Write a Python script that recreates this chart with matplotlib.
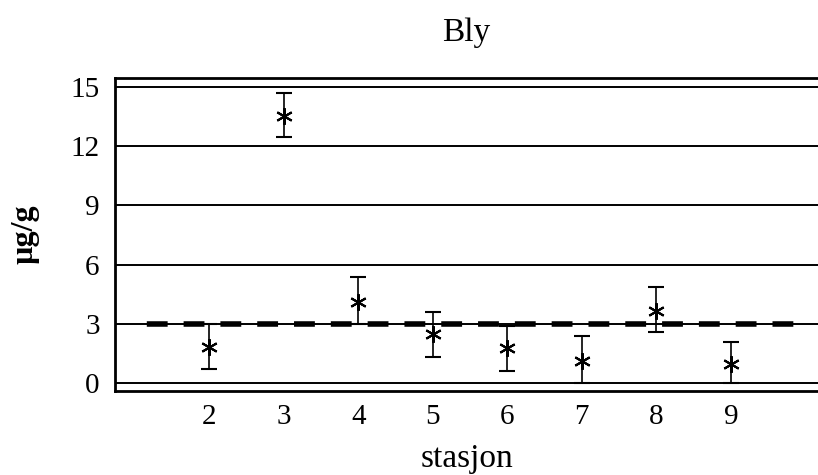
import numpy as np
import matplotlib
matplotlib.use("Agg")
import matplotlib.pyplot as plt

# Values
stations = [2, 3, 4, 5, 6, 7, 8, 9]
mean_vals = [1.84, 13.55, 4.12, 2.47, 1.76, 1.13, 3.66, 0.95]
upper_vals = [2.97, 14.71, 5.36, 3.58, 2.89, 2.37, 4.85, 2.06]
lower_vals = [0.72, 12.45, 2.97, 1.33, 0.62, 0.0, 2.60, 0.0]
ref_level = 3.0
ref_span = [1, 10]
y_ticks = [0, 3, 6, 9, 12, 15]

plt.rcParams["font.family"] = ["Liberation Serif", "DejaVu Serif"]
plt.rcParams["lines.scale_dashes"] = False

fig = plt.figure(figsize=(8.18, 4.75), dpi=100)
ax = fig.add_axes([115 / 818, 1 - 391 / 475, 1 - 115 / 818, (391 - 78) / 475])

mean_arr = np.array(mean_vals)
err = [mean_arr - np.array(lower_vals), np.array(upper_vals) - mean_arr]

# horizontal grid lines
for yv in y_ticks:
    ax.axhline(yv, color="black", lw=1.4, zorder=1)

# reference level (thick dashes)
ax.hlines(ref_level, ref_span[0], ref_span[1], colors="black", lw=4,
          linestyles=(18, (15, 11.5)), zorder=2)

ax.errorbar(stations, mean_vals, yerr=err, fmt="none", ecolor="black",
            elinewidth=1.2, capsize=5.8, capthick=1.5, zorder=3)
ax.plot(stations, mean_vals, linestyle="none", marker=(6, 2, 0),
        markersize=12, markeredgewidth=1.5, color="black", zorder=4)

ax.set_xlim(0.734, 10.17)
ax.set_ylim(-0.41, 15.46)
ax.set_xticks(stations)
ax.set_yticks(y_ticks)
ax.tick_params(axis="both", length=0, labelsize=21)
ax.tick_params(axis="x", pad=9)
ax.tick_params(axis="y", pad=11)

for side in ["top", "bottom", "left"]:
    ax.spines[side].set_linewidth(2)
ax.spines["right"].set_visible(False)

ax.set_title("Bly", fontsize=24, pad=27)
ax.set_xlabel("stasjon", fontsize=24, labelpad=10)
ax.set_ylabel("µg/g", fontsize=23, fontweight="bold", labelpad=22)

fig.savefig("out.png", dpi=100)
